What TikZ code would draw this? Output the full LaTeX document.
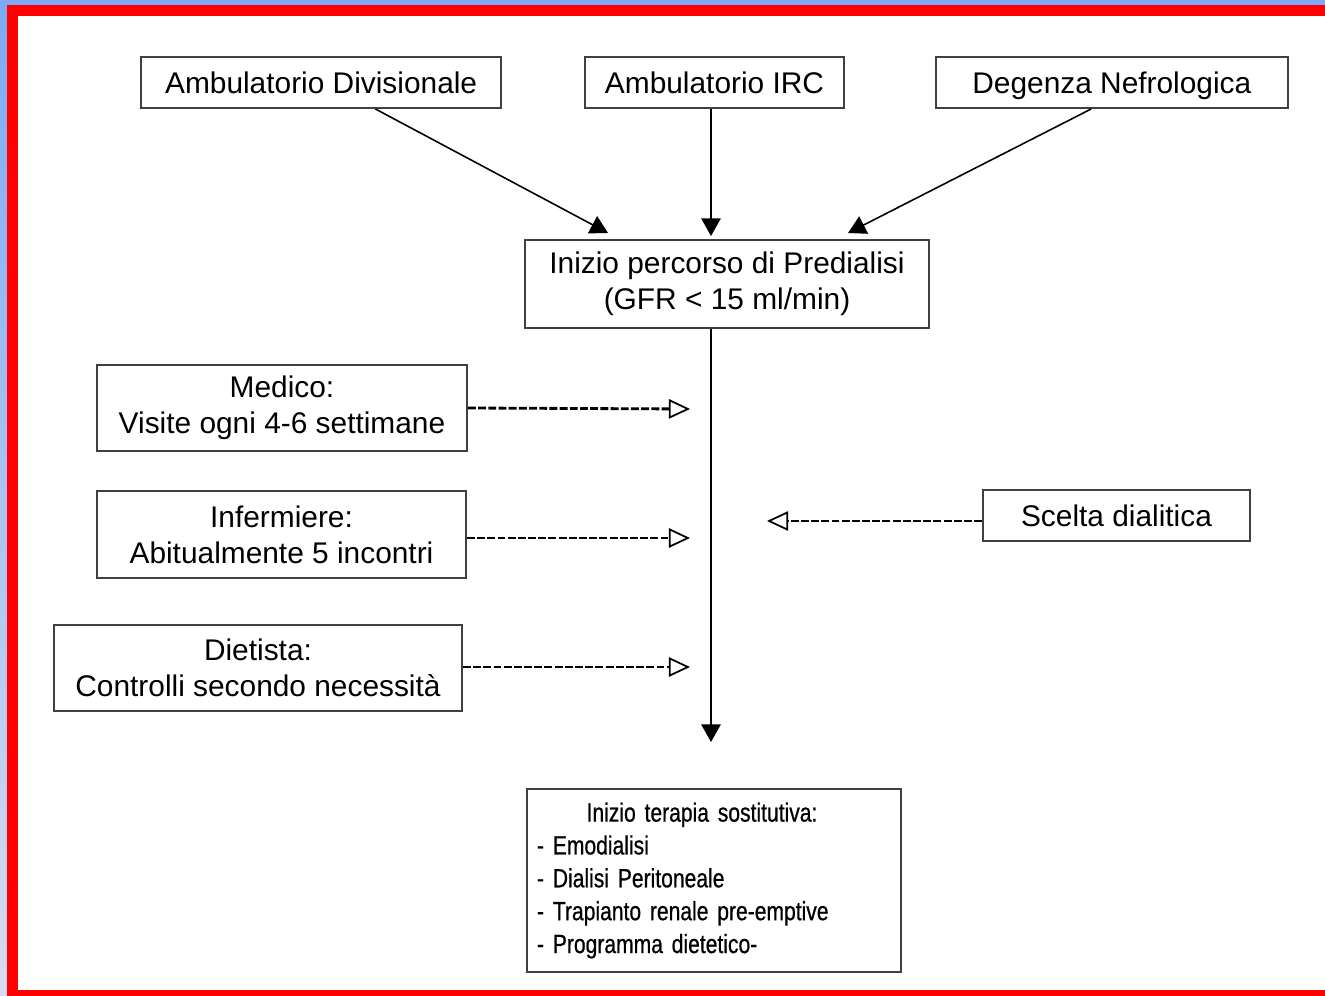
\documentclass[tikz,border=0pt]{standalone}
\usepackage{fontspec}
\setmainfont{Liberation Sans}
\newfontfamily\narrowsans[FakeStretch=0.8, FakeBold=0.6, WordSpace=0.7]{Liberation Sans}
\usepackage{xcolor}
\usetikzlibrary{positioning, arrows.meta}
\definecolor{framered}{RGB}{255,0,0}
\definecolor{pageblue}{RGB}{122,170,245}
\definecolor{pagelilac}{RGB}{216,220,240}

\begin{document}
\begin{tikzpicture}[
    x=0.02cm, y=-0.02cm,
    box/.style={draw=black!75, line width=1.1pt, fill=white, inner sep=0pt, font=\fontsize{17}{20.5}\selectfont, align=center},
    onebox/.style={box, minimum height=1.02cm, text height=13.5pt, text depth=1.5pt},
    arr/.style={-{Triangle[length=10pt, width=11pt]}, line width=0.9pt},
    dasharr/.style={-{Triangle[open, length=12pt, width=11pt, line width=1pt]}, line width=1.6pt, dash pattern=on 4.5pt off 1.3pt}
]
% frame
\fill[pageblue] (0,0) rectangle (1325,996);
\shade[top color=pageblue, bottom color=pagelilac] (0,0) rectangle (7,996);
\fill[framered] (7,5) rectangle (1325,996);
\fill[white] (18,16) rectangle (1325,990);
\useasboundingbox (0,0) rectangle (1325,996);

% sources
\node[onebox, minimum width=5.18cm] (irc) at (714.5,82.5) {Ambulatorio IRC};
\node[onebox, minimum width=7.2cm, left=1.64cm of irc] (div) {Ambulatorio Divisionale};
\node[onebox, minimum width=7.04cm, right=1.8cm of irc] (deg) {Degenza Nefrologica};

\node[box, minimum width=8.08cm, minimum height=1.76cm] (pre) at (727,284) {Inizio percorso di Predialisi\\(GFR < 15 ml/min)};

% team
\node[box, minimum width=7.4cm, minimum height=1.72cm] (med) at (282,408) {Medico:\\Visite ogni 4-6 settimane};
\node[box, minimum width=7.38cm, minimum height=1.74cm] (inf) at (281.5,534.5) {Infermiere:\\Abitualmente 5 incontri};
\node[box, minimum width=8.16cm, minimum height=1.72cm] (die) at (258,668) {Dietista:\\Controlli secondo necessità};
\node[onebox, minimum width=5.34cm] (sce) at (1116.5,515.5) {Scelta dialitica};

\node[box, text width=7.08cm, minimum height=3.66cm, inner xsep=0.2cm, align=left,
      font=\narrowsans\fontsize{15}{18.7}\selectfont] (ter) at (714,880.5)
  {\makebox[6.6cm]{Inizio terapia sostitutiva:}\\
   - Emodialisi\\
   - Dialisi Peritoneale\\
   - Trapianto renale pre-emptive\\
   - Programma dietetico-};

\coordinate (axis) at (711,742);
\coordinate (div-in) at (608,233);
\coordinate (deg-in) at (848,233);
\coordinate (med-end) at (690,409);
\coordinate (inf-end) at (690,538);
\coordinate (die-end) at (690,667);
\coordinate (sce-end) at (767,521);

\draw[arr] (div.-26) -- (div-in);
\draw[arr] (irc.south -| axis) -- ([yshift=0.06cm]pre.north -| axis);
\draw[arr] (deg.-128) -- (deg-in);
\draw[arr] (pre.south -| axis) -- (axis);

\draw[dasharr] (med.east) -- (med-end);
\draw[dasharr] (inf.east |- inf-end) -- (inf-end);
\draw[dasharr] (die.east |- die-end) -- (die-end);
\draw[dasharr] (sce.west |- sce-end) -- (sce-end);
\end{tikzpicture}
\end{document}
